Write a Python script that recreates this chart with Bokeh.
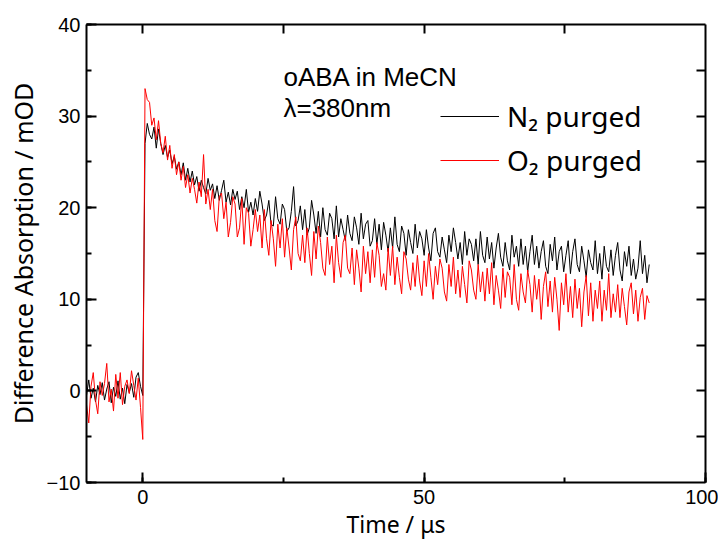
from bokeh.plotting import figure
from bokeh.models import (Range1d, LinearAxis, SingleIntervalTicker, FixedTicker,
                          Label, Legend, LegendItem, ColumnDataSource)
from bokeh.embed import file_html
from bokeh.resources import INLINE

# ---- data ----
t_start = -10.0
t_step = 0.4
n_points = 251
time_us = [round(t_start + t_step * i, 1) for i in range(n_points)]

n2_pre = [-0.5, 1.2, -0.8, 0.3, -1.2, 0.6, -0.4, 0.9, -1.0, 0.2,
          1.0, -1.3, 0.4, -0.6, 1.1, -0.9, 0.3, -1.4, 0.7, -0.2,
          0.8, -0.7, 1.5, 2.0, 0.5]
n2_t0 = [-0.5]
n2_post = [27.0, 29.2, 28.0, 27.5, 28.8, 26.5, 28.6, 27.0, 25.8, 26.8,
           25.5, 26.3, 24.8, 25.6, 24.2, 25.0, 23.6, 24.9, 23.0, 24.3,
           22.8, 24.0, 22.5, 23.4, 21.8, 23.0, 22.2, 21.5, 23.2, 21.9,
           22.6, 21.0, 22.4, 20.8, 21.9, 23.0, 20.6, 21.7, 20.3, 22.0,
           20.9, 21.8, 19.8, 21.2, 20.0, 22.0, 19.5, 20.6, 19.2, 21.0,
           19.6, 21.8, 20.4, 18.6, 19.2, 20.8, 18.2, 18.0, 21.2, 18.8,
           18.2, 20.4, 19.8, 17.4, 17.8, 19.6, 22.3, 18.0, 18.6, 20.2,
           17.6, 19.8, 17.0, 17.8, 20.8, 19.2, 17.2, 19.6, 16.8, 20.0,
           17.6, 17.0, 19.4, 18.8, 16.6, 20.2, 16.8, 18.8, 17.6, 16.4,
           19.2, 17.2, 16.4, 19.0, 17.8, 16.0, 19.4, 16.6, 18.2, 18.6,
           15.8, 16.4, 18.8, 16.0, 18.2, 15.4, 18.4, 17.0, 15.2, 17.8,
           15.6, 19.0, 16.0, 15.2, 18.0, 17.2, 14.8, 17.6, 16.2, 15.0,
           18.2, 15.6, 17.4, 16.6, 14.8, 17.6, 15.6, 14.2, 17.2, 17.8,
           15.2, 14.6, 16.8, 15.4, 14.0, 17.0, 15.2, 17.8, 16.2, 14.4,
           16.2, 13.8, 17.4, 14.8, 16.6, 16.0, 14.2, 16.6, 13.8, 17.4,
           14.8, 14.0, 16.8, 14.4, 16.2, 13.4, 15.6, 17.2, 14.6, 13.6,
           16.2, 14.2, 13.2, 17.0, 14.6, 15.8, 13.6, 16.6, 13.8, 15.8,
           13.0, 15.2, 17.0, 13.8, 15.8, 13.4, 15.2, 16.4, 13.6, 12.8,
           16.0, 14.2, 16.8, 13.2, 15.2, 15.8, 13.0, 14.8, 16.4, 12.8,
           15.2, 16.6, 13.8, 13.0, 15.8, 14.2, 12.4, 15.4, 14.0, 13.2,
           16.4, 12.8, 15.0, 12.2, 15.8, 13.6, 13.0, 15.4, 12.6, 14.8,
           16.2, 13.2, 12.0, 15.2, 13.6, 15.8, 12.6, 14.4, 12.2, 13.4,
           16.4, 12.8, 14.8, 11.8, 13.8]

o2_pre = [-1.5, -3.5, 0.5, 2.0, -1.0, -2.5, 1.0, -0.5, 0.8, 3.0,
          -1.2, 0.2, -2.2, 1.8, -0.8, 2.0, -1.5, 0.5, 1.2, -0.3,
          2.2, 0.6, -1.0, 1.4, -1.8]
o2_t0 = [-5.3]
o2_post = [33.0, 31.8, 31.5, 29.0, 29.8, 27.4, 29.5, 27.0, 26.0, 27.8,
           25.2, 26.8, 24.3, 25.8, 23.6, 25.0, 23.0, 24.5, 22.2, 23.6,
           21.6, 23.2, 22.0, 20.5, 22.8, 21.2, 25.8, 20.4, 22.0, 19.8,
           22.0, 18.6, 17.4, 21.2, 21.6, 18.8, 20.6, 16.8, 18.4, 21.2,
           20.4, 16.8, 17.8, 21.0, 16.0, 20.0, 19.4, 15.8, 17.6, 19.8,
           17.4, 19.2, 15.6, 19.8, 16.6, 14.8, 18.6, 16.6, 13.6, 18.2,
           15.6, 18.8, 14.6, 17.8, 15.6, 13.2, 17.6, 19.0, 15.0, 14.2,
           17.0, 14.0, 17.8, 15.0, 12.6, 17.4, 14.4, 18.0, 16.2, 13.4,
           12.6, 16.8, 13.8, 15.8, 11.8, 17.0, 14.0, 12.4, 16.2, 17.0,
           13.4, 12.8, 15.6, 11.6, 15.4, 13.4, 10.8, 15.8, 12.8, 15.2,
           11.8, 15.4, 12.4, 16.2, 14.8, 11.4, 12.8, 11.0, 15.6, 12.6,
           15.8, 11.6, 14.6, 12.4, 10.6, 15.2, 14.4, 12.2, 11.0, 14.0,
           11.4, 14.8, 12.0, 10.4, 14.2, 11.4, 15.0, 12.4, 10.0, 13.6,
           11.6, 14.4, 13.4, 10.8, 9.8, 13.8, 11.4, 14.6, 10.6, 13.2,
           10.2, 13.6, 11.6, 9.6, 14.2, 13.2, 11.0, 10.0, 13.8, 10.8,
           13.0, 9.8, 13.4, 10.6, 14.0, 9.4, 12.6, 11.0, 9.0, 13.4,
           10.2, 13.0, 12.4, 9.4, 13.8, 10.0, 8.8, 12.8, 10.8, 9.6,
           13.2, 11.6, 8.6, 12.6, 10.0, 12.2, 7.8, 11.4, 13.0, 9.2,
           12.0, 8.6, 12.4, 10.0, 6.6, 11.8, 9.4, 12.8, 8.6, 11.4,
           8.0, 12.2, 9.0, 11.2, 7.0, 10.8, 12.6, 8.2, 11.8, 7.6,
           11.0, 9.0, 12.0, 7.6, 11.0, 8.8, 12.8, 8.0, 10.6, 8.6,
           11.6, 8.0, 11.2, 9.2, 7.2, 10.8, 11.8, 8.4, 11.0, 7.6,
           10.2, 11.2, 7.8, 10.4, 9.6]

n2_mod = n2_pre + n2_t0 + n2_post
o2_mod = o2_pre + o2_t0 + o2_post

x_major = 50
y_major = 10
top_ticks = [0, 25, 50, 75]
right_ticks = [-5, 0, 5, 10, 15, 20, 25, 30, 35]

source = ColumnDataSource(dict(t=time_us, n2=n2_mod, o2=o2_mod))

p = figure(frame_width=619, frame_height=458,
           x_range=Range1d(-10, 100), y_range=Range1d(-10, 40),
           output_backend="svg", toolbar_location=None,
           min_border_left=86, min_border_right=13,
           min_border_top=24, min_border_bottom=56,
           background_fill_color="white", border_fill_color="white")
p.outline_line_color = None
p.grid.visible = False

r_n2 = p.line("t", "n2", source=source, line_color="#000000", line_width=1)
r_o2 = p.line("t", "o2", source=source, line_color="#ff0000", line_width=1)

tick_font = "Liberation Sans"
label_font = "Noto Sans"

def style_axis(ax, major_in, minor_in):
    ax.axis_line_width = 2
    ax.axis_line_color = "black"
    ax.major_tick_line_width = 2
    ax.minor_tick_line_width = 2
    ax.major_tick_in = major_in
    ax.major_tick_out = 0
    ax.minor_tick_in = minor_in
    ax.minor_tick_out = 0
    ax.major_label_text_font = tick_font
    ax.major_label_text_font_size = "20px"
    ax.major_label_text_color = "black"
    ax.axis_label_text_font = label_font
    ax.axis_label_text_font_size = "25px"
    ax.axis_label_text_font_style = "normal"
    ax.axis_label_text_color = "black"

p.xaxis.ticker = SingleIntervalTicker(interval=x_major, num_minor_ticks=2)
p.yaxis.ticker = SingleIntervalTicker(interval=y_major, num_minor_ticks=2)
style_axis(p.xaxis[0], 10, 5)
style_axis(p.yaxis[0], 10, 5)
p.xaxis.axis_label = "Time / μs"
p.yaxis.axis_label = "Difference Absorption / mOD"
p.xaxis.axis_label_text_font_size = "23px"
p.xaxis.major_label_standoff = 7
p.yaxis.major_label_standoff = 6
p.xaxis.axis_label_standoff = 1
p.yaxis.axis_label_standoff = 4

top_ax = LinearAxis(ticker=FixedTicker(ticks=[], minor_ticks=top_ticks))
right_ax = LinearAxis(ticker=FixedTicker(ticks=[], minor_ticks=right_ticks))
for ax in (top_ax, right_ax):
    style_axis(ax, 9, 9)
p.add_layout(top_ax, "above")
p.add_layout(right_ax, "right")

legend = Legend(items=[LegendItem(label="N₂ purged", renderers=[r_n2]),
                       LegendItem(label="O₂ purged", renderers=[r_o2])],
                location=(354, 303))
legend.label_text_font = label_font
legend.label_text_font_size = "28px"
legend.label_text_color = "black"
legend.glyph_width = 59
legend.glyph_height = 20
legend.label_standoff = 8
legend.spacing = 6
legend.padding = 0
legend.margin = 0
legend.border_line_color = None
legend.background_fill_alpha = 0
p.add_layout(legend)

for txt, y in (("oABA in MeCN", 34.3), ("λ=380nm", 30.85)):
    p.add_layout(Label(x=25.0, y=y, text=txt, text_font=tick_font,
                       text_font_size="26px", text_color="black",
                       text_baseline="alphabetic"))

open("out.html", "w").write(file_html(p, INLINE))
